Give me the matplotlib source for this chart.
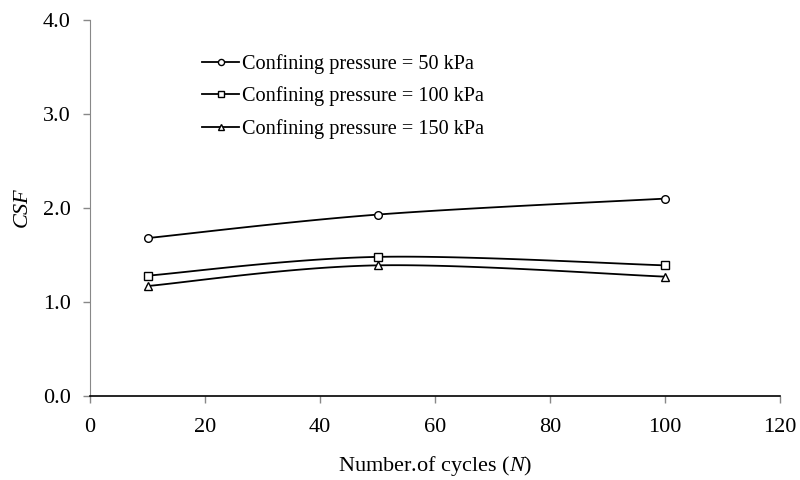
import numpy as np
import matplotlib
matplotlib.use("Agg")
import matplotlib.pyplot as plt
from matplotlib.lines import Line2D

cycles = [10, 50, 100]
csf_50 = [1.68, 1.93, 2.10]
csf_100 = [1.28, 1.48, 1.39]
csf_150 = [1.17, 1.39, 1.27]
labels = ["Confining pressure = 50 kPa", "Confining pressure = 100 kPa", "Confining pressure = 150 kPa"]
markers = ["o", "s", "^"]

plt.rcParams['font.family'] = ['Liberation Serif', 'DejaVu Serif']
plt.rcParams['mathtext.fontset'] = 'custom'
plt.rcParams['mathtext.rm'] = 'Liberation Serif'
plt.rcParams['mathtext.it'] = 'Liberation Serif:italic'


def smooth(xs, ys, n=40):
    # Excel-like smoothed line: cubic Bezier with Catmull-Rom control points
    P = np.column_stack([xs, ys]).astype(float)
    ext = np.vstack([P[0], P, P[-1]])
    out = []
    t = np.linspace(0, 1, n)[:, None]
    for i in range(len(P) - 1):
        p0, p1, p2, p3 = ext[i], ext[i + 1], ext[i + 2], ext[i + 3]
        c1 = p1 + (p2 - p0) / 6.0
        c2 = p2 - (p3 - p1) / 6.0
        seg = ((1 - t) ** 3) * p1 + 3 * ((1 - t) ** 2) * t * c1 + 3 * (1 - t) * t ** 2 * c2 + t ** 3 * p2
        out.append(seg)
    out = np.vstack(out)
    return out[:, 0], out[:, 1]


fig = plt.figure(figsize=(8, 4.8), dpi=100)
ax = fig.add_axes([0.1125, 0.175, 0.8625, 0.7833])

msz = {"o": 5.5, "s": 5.2, "^": 5.5}
handles = []
for ys, m, lab in zip([csf_50, csf_100, csf_150], markers, labels):
    sx, sy = smooth(cycles, ys)
    ax.plot(sx, sy, color='black', lw=1.3, zorder=2)
    ax.plot(cycles, ys, linestyle='none', marker=m, markersize=msz[m],
            markerfacecolor='white', markeredgecolor='black', markeredgewidth=1.0, zorder=3)
    handles.append(Line2D([], [], color='black', lw=1.3, marker=m, markersize=msz[m] * 0.8,
                          markerfacecolor='white', markeredgecolor='black', markeredgewidth=1.0, label=lab))

ax.set_xlim(0, 120)
ax.set_ylim(0, 4.0)
ax.set_xticks(np.arange(0, 121, 20))
ax.set_yticks(np.arange(0, 4.01, 1.0))
ax.set_yticklabels([f"{v:.1f}" for v in np.arange(0, 4.01, 1.0)])
ax.tick_params(axis='both', labelsize=16, length=5, width=1, color='#888888', direction='out')
ax.tick_params(axis='y', pad=9)
ax.tick_params(axis='x', pad=11)

for s in ['top', 'right']:
    ax.spines[s].set_visible(False)
ax.spines['left'].set_color('#888888')
ax.spines['bottom'].set_color('black')
ax.spines['bottom'].set_linewidth(1.2)

ax.set_xlabel("Number.of cycles ($N$)", fontsize=16, labelpad=12)
ax.set_ylabel("$CSF$", fontsize=16, labelpad=7)

leg = ax.legend(handles=handles, loc='upper left', bbox_to_anchor=(0.163, 0.91), frameon=False, fontsize=14.6,
                handlelength=1.8, handletextpad=0.15, labelspacing=0.62, borderpad=0, borderaxespad=0)

fig.savefig("out.png", dpi=100)
